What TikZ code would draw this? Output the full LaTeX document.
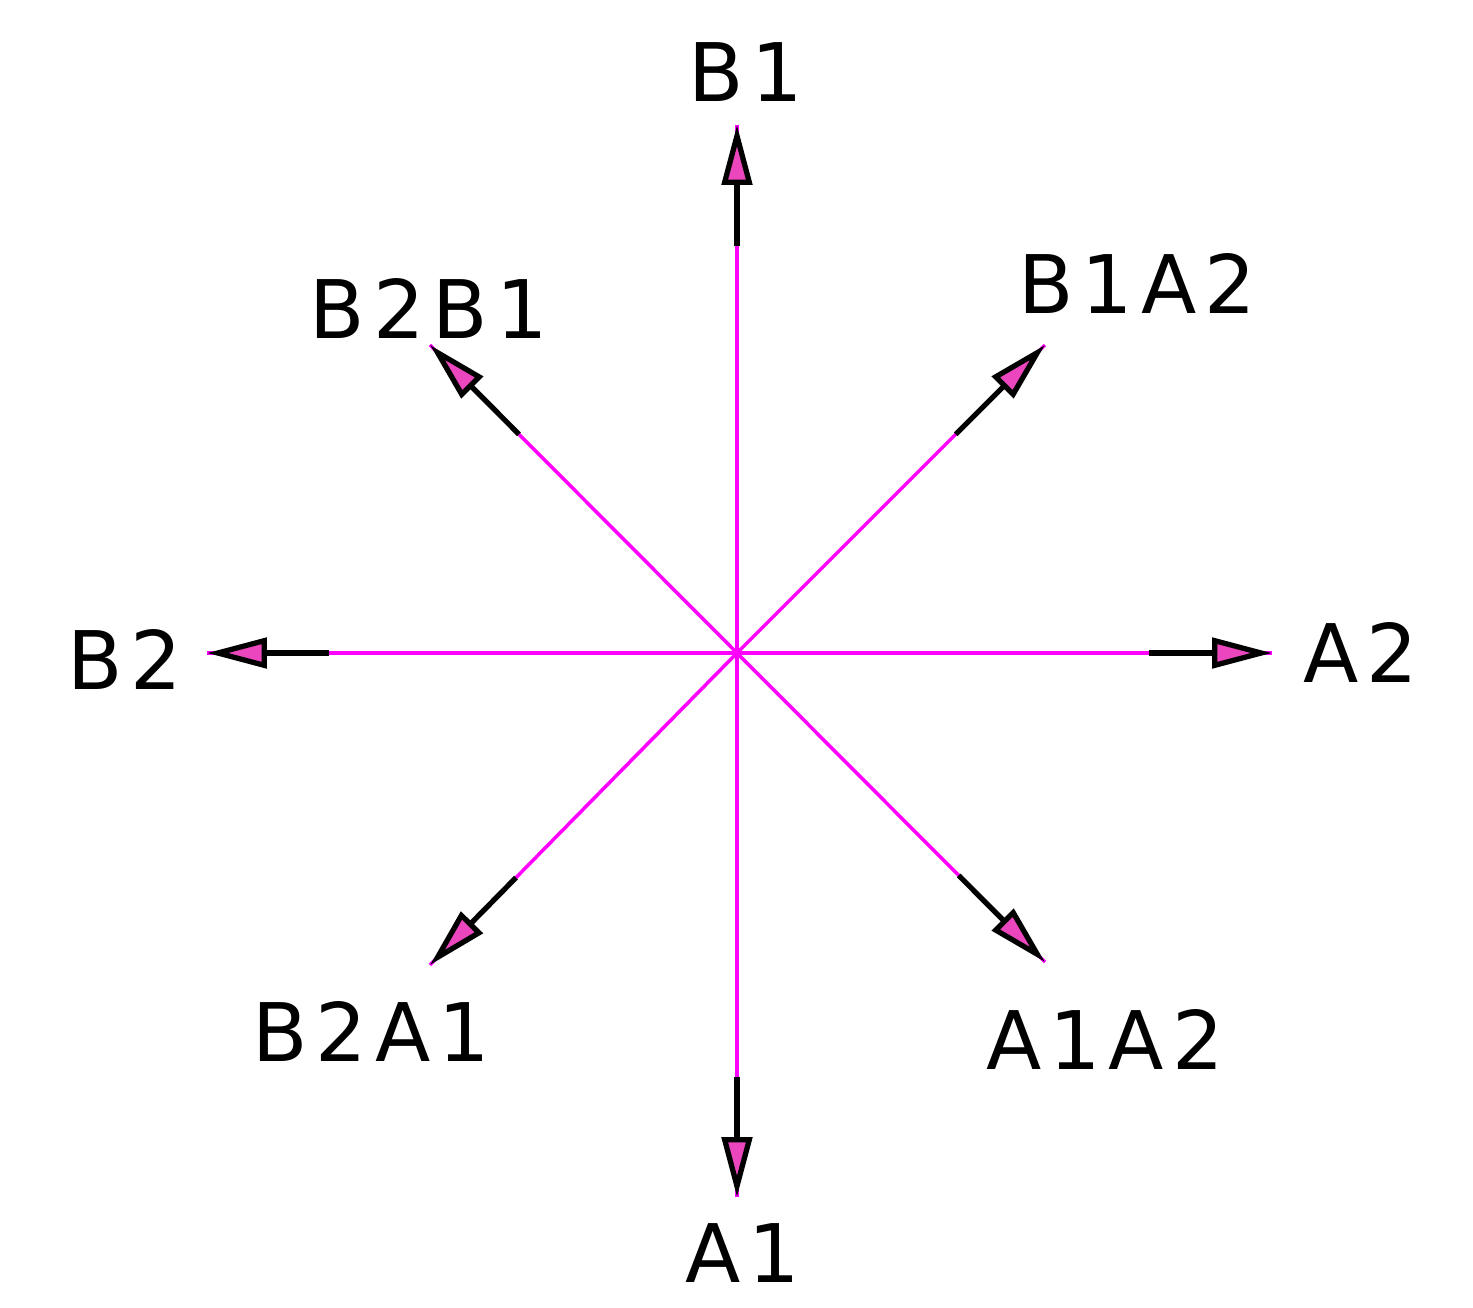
\documentclass[tikz,border=0pt]{standalone}
\usepackage{fontspec}
\setmainfont{DejaVu Sans}[LetterSpace=10]
\usetikzlibrary{arrows.meta,calc}
\definecolor{rayPink}{RGB}{255,0,255}
\definecolor{tipPink}{RGB}{235,70,190}

\begin{document}
\begin{tikzpicture}[
  label/.style={font=\fontsize{46}{50}\selectfont, text=black, inner sep=0pt},
  ray/.style={draw=rayPink, line width=2pt},
  shaft/.style={draw=black, line width=3pt, -{Triangle[length=1.2cm, width=0.6cm, fill=tipPink]}}
]
\useasboundingbox (-14.74,-13.08) rectangle (14.72,13.06);

\coordinate (O) at (0,0);

% arrow tips
\coordinate (tB1) at (0,10.56);
\coordinate (tA2) at (10.7,0);
\coordinate (tB2) at (-10.6,0);
\coordinate (tA1) at (0,-10.88);
\coordinate (tB1A2) at (6.16,6.16);
\coordinate (tB2B1) at (-6.14,6.16);
\coordinate (tB2A1) at (-6.14,-6.24);
\coordinate (tA1A2) at (6.16,-6.18);

% where the black part starts
\coordinate (sB1) at ($(O)!0.77!(tB1)$);
\coordinate (sA2) at ($(O)!0.77!(tA2)$);
\coordinate (sB2) at ($(O)!0.77!(tB2)$);
\coordinate (sA1) at ($(O)!0.78!(tA1)$);
\coordinate (sB1A2) at ($(O)!0.71!(tB1A2)$);
\coordinate (sB2B1) at ($(O)!0.71!(tB2B1)$);
\coordinate (sB2A1) at ($(O)!0.72!(tB2A1)$);
\coordinate (sA1A2) at ($(O)!0.72!(tA1A2)$);

\node[label] (B1) at (0.18,11.62) {B1};
\node[label] (B2B1) at (-6.16,6.88) {B2B1};
\node[label] (B1A2) at (8.0,7.38) {B1A2};
\node[label] (B2) at (-12.24,-0.12) {B2};
\node[label] (A2) at (12.48,0.02) {A2};
\node[label] (B2A1) at (-7.32,-7.56) {B2A1};
\node[label] (A1A2) at (7.36,-7.72) {A1A2};
\node[label] (A1) at (0.12,-12.0) {A1};

\draw[ray] (O) -- (tB1);
\draw[ray] (O) -- (tA2);
\draw[ray] (O) -- (tB2);
\draw[ray] (O) -- (tA1);
\draw[ray] (O) -- (tB1A2);
\draw[ray] (O) -- (tB2B1);
\draw[ray] (O) -- (tB2A1);
\draw[ray] (O) -- (tA1A2);

\draw[shaft] (sB1) -- (tB1);
\draw[shaft] (sA2) -- (tA2);
\draw[shaft] (sB2) -- (tB2);
\draw[shaft] (sA1) -- (tA1);
\draw[shaft] (sB1A2) -- (tB1A2);
\draw[shaft] (sB2B1) -- (tB2B1);
\draw[shaft] (sB2A1) -- (tB2A1);
\draw[shaft] (sA1A2) -- (tA1A2);
\end{tikzpicture}
\end{document}
